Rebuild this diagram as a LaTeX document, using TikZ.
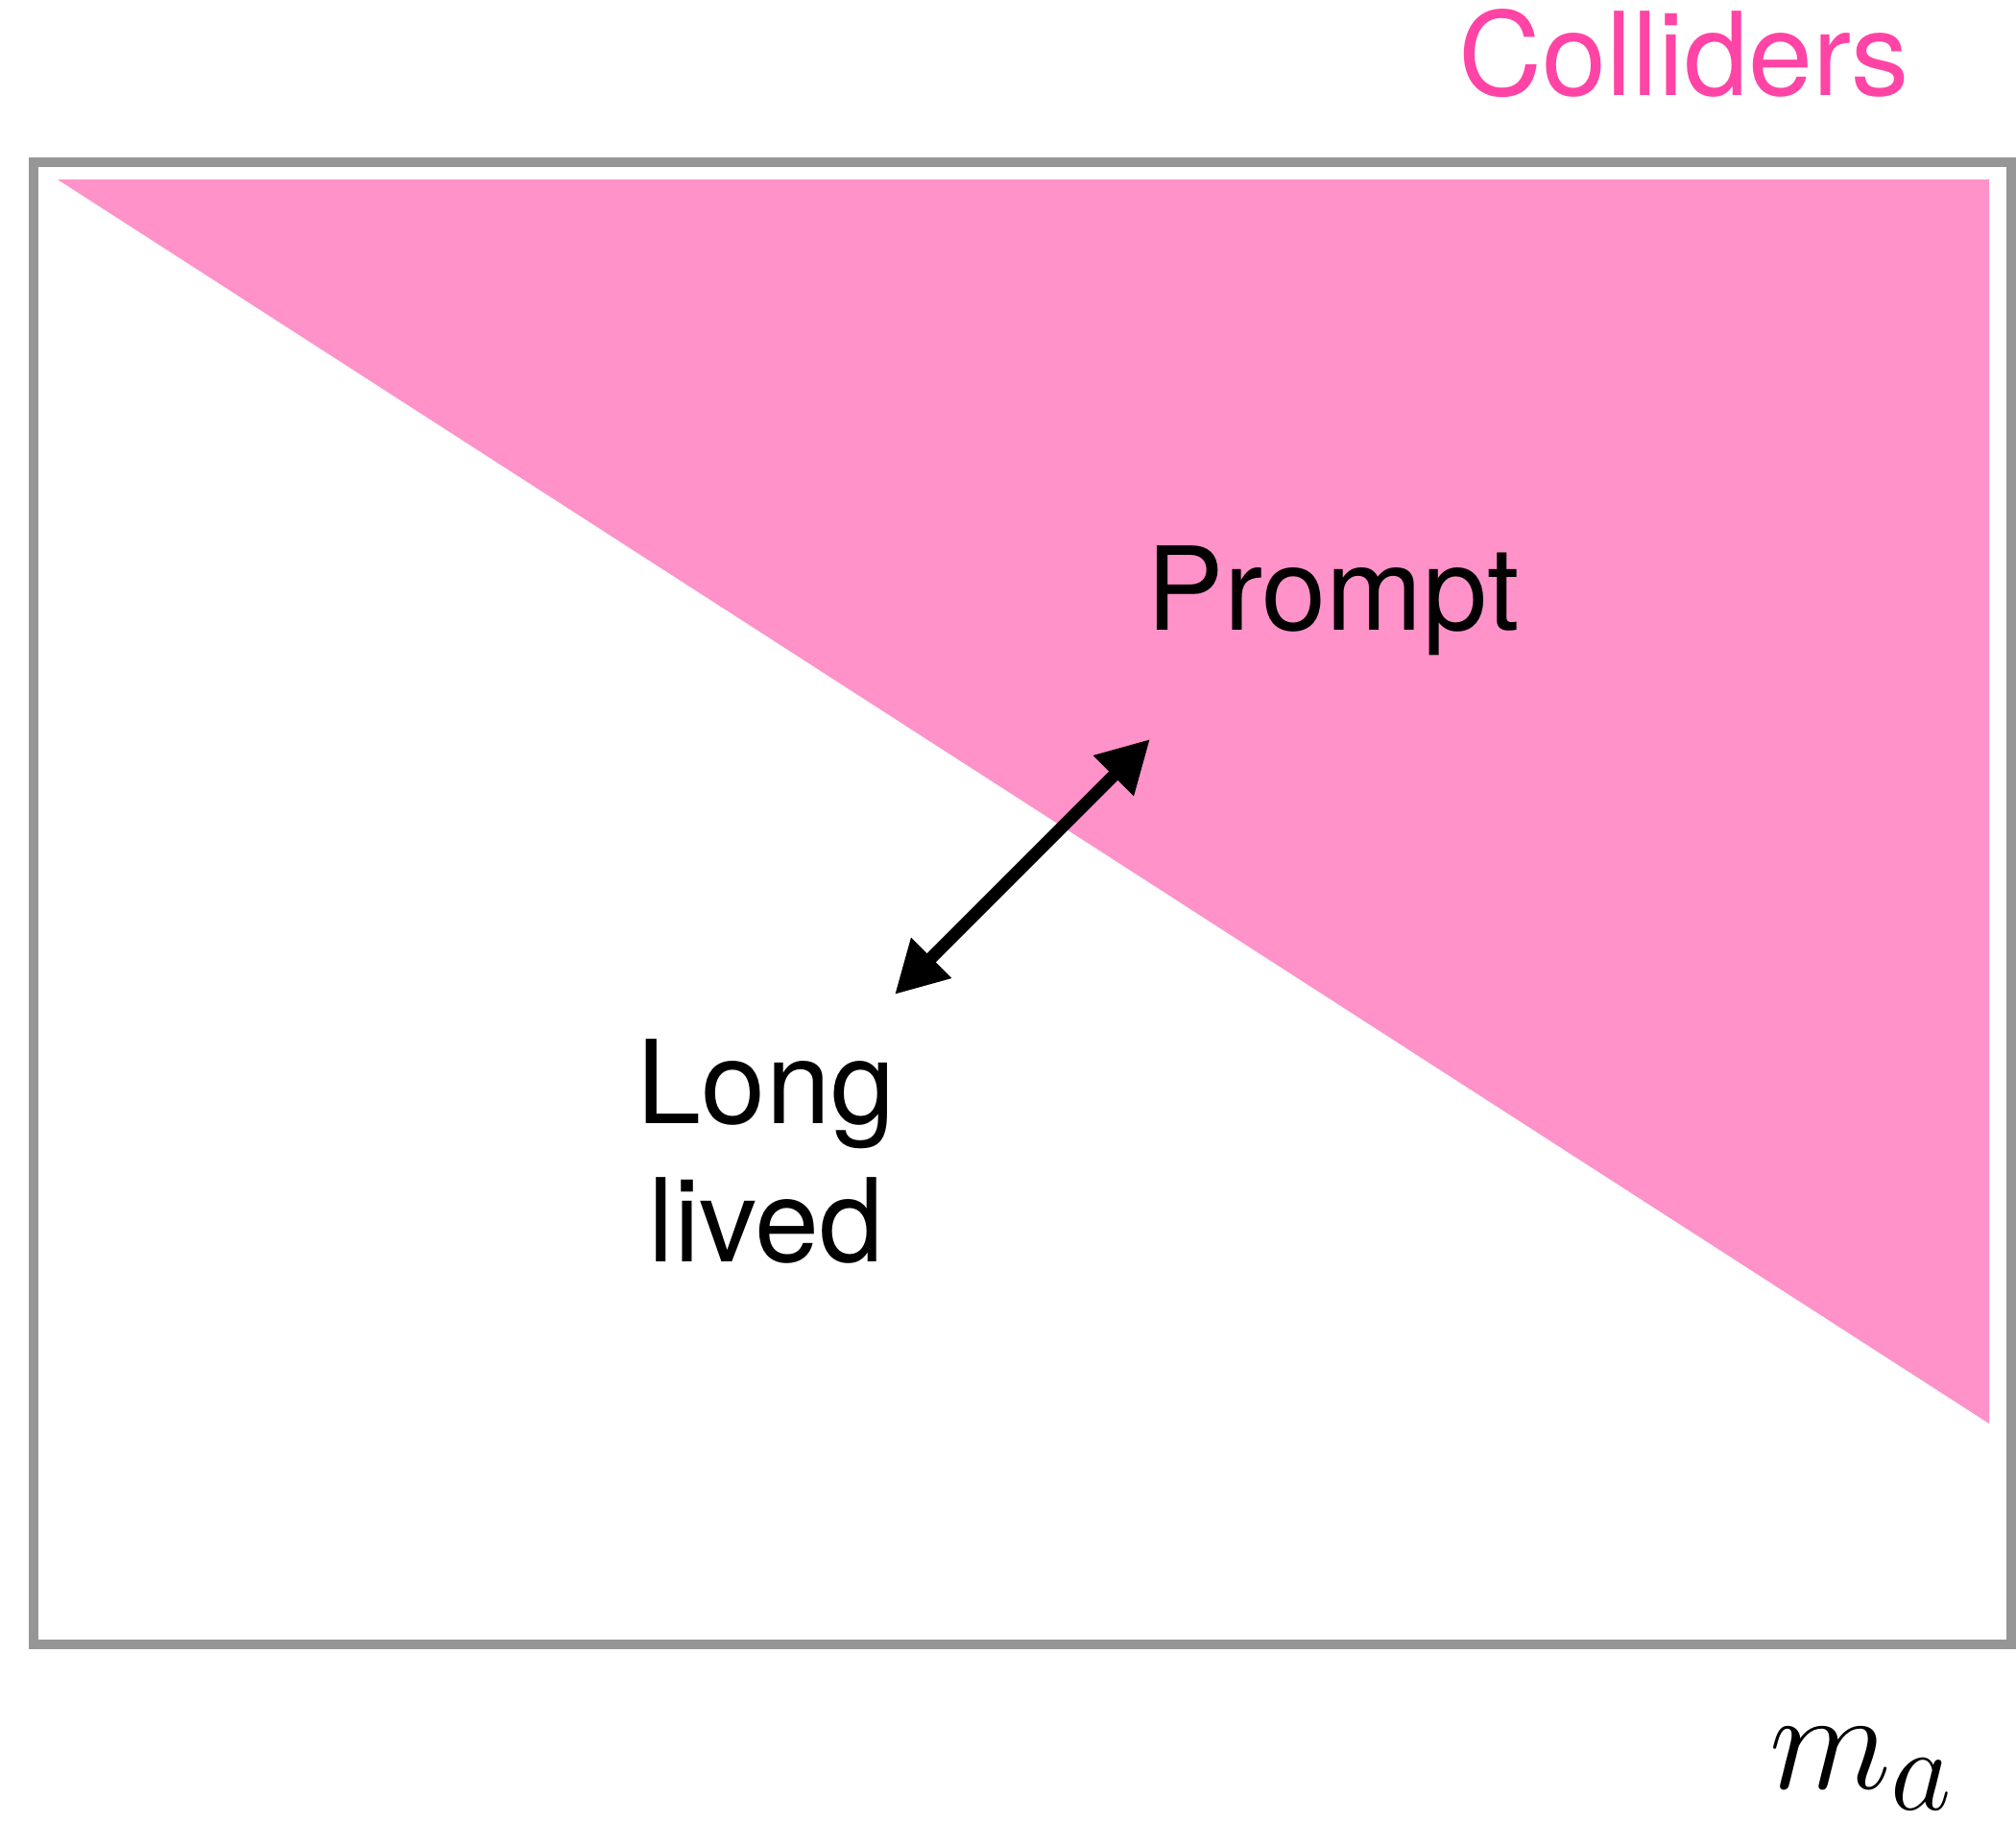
\documentclass[tikz,border=0pt]{standalone}
\usepackage{fontspec}
\setmainfont{TeX Gyre Heros}
\usetikzlibrary{arrows.meta, positioning}
\definecolor{RegionPink}   {RGB}{255, 146, 200}
\definecolor{ColliderPink} {RGB}{255,  68, 165}
\definecolor{FrameGray}    {RGB}{150, 150, 150}
\tikzset{
  % Outer plot frame
  plotframe/.style={
    draw=FrameGray, line width=1mm
  },
  % Shaded collider region
  colliderregion/.style={
    fill=RegionPink, draw=none
  },
  % Region labels
  regionlabel/.style={
    font=\fontsize{34.3}{41}\selectfont, text=black,
    inner sep=0pt, align=center
  },
  % Axis label (math sizes stop at \Huge, so scale the node)
  axislabel/.style={
    font=\Huge, scale=1.69, inner sep=0pt
  },
  % Two-headed arrow between the regions
  boundaryarrow/.style={
    {Triangle[length=5.4mm, width=5.6mm]}-{Triangle[length=5.4mm, width=5.6mm]},
    line width=1.3mm, color=black
  }
}
\begin{document}
\begin{tikzpicture}

  \useasboundingbox (0,0) rectangle (21,-18.97);

  % ── FRAME AND COLLIDER REGION ─────────────────────────────────────────────
  \fill[colliderregion] (0.60,-1.87) -- (20.72,-1.87) -- (20.72,-14.83) -- cycle;
  \draw[plotframe] (0.35,-1.69) rectangle (20.95,-17.13);

  % ── LABELS ────────────────────────────────────────────────────────────────
  \node[regionlabel, text=ColliderPink, anchor=base west] (colliders)
        at (15.19,-1.00) {Colliders};
  \node[regionlabel, anchor=base west] (prompt)
        at (11.94,-6.57) {Prompt};
  \node[regionlabel, anchor=north] (longlived)
        at (7.98,-10.82) {Long\\lived};
  \node[axislabel, anchor=base west] (mass)
        at (18.42,-18.63) {$m_a$};

  % ── ARROW ACROSS THE BOUNDARY ─────────────────────────────────────────────
  \coordinate (arr_lo) at (9.32,-10.36);
  \coordinate (arr_hi) at (11.98,-7.70);
  \draw[boundaryarrow] (arr_lo) -- (arr_hi);

\end{tikzpicture}
\end{document}
